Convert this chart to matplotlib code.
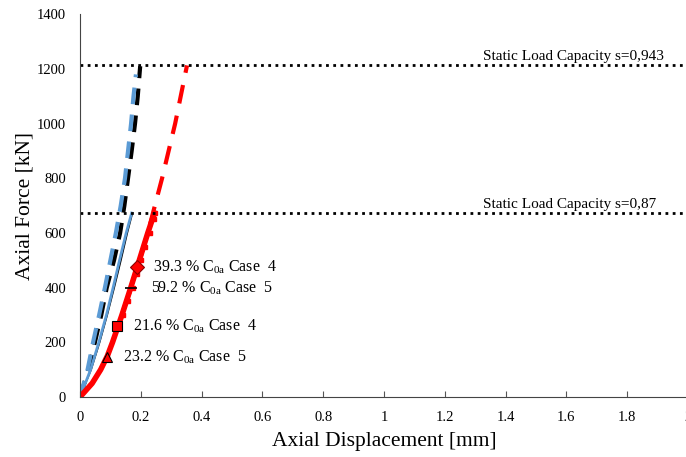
import matplotlib
matplotlib.use("Agg")
import matplotlib.pyplot as plt

plt.rcParams['font.family'] = ['Liberation Serif', 'DejaVu Serif']
plt.rcParams['mathtext.fontset'] = 'custom'
plt.rcParams['mathtext.rm'] = 'Liberation Serif'
plt.rcParams['mathtext.it'] = 'Liberation Serif'

# curves (force kN, displacement mm)
force_black_dash = [0, 100, 200, 300, 400, 500, 600, 700, 800, 900, 1000, 1100, 1210]
disp_black_dash = [0, 0.028, 0.049, 0.070, 0.088, 0.112, 0.132, 0.146, 0.158, 0.170, 0.181, 0.190, 0.198]

force_blue_dash = [0, 100, 200, 300, 400, 500, 600, 700, 800, 900, 1000, 1100, 1180]
disp_blue_dash = [0, 0.025, 0.043, 0.063, 0.082, 0.100, 0.118, 0.134, 0.148, 0.158, 0.168, 0.176, 0.184]

force_blue = [0, 100, 200, 300, 400, 500, 600, 673]
disp_blue = [0, 0.035, 0.062, 0.087, 0.109, 0.130, 0.152, 0.170]
disp_black_thin = [0, 0.037, 0.065, 0.090, 0.113, 0.135, 0.156, 0.173]

force_red = [0, 50, 100, 150, 200, 300, 400, 500, 600, 673]
disp_red = [0, 0.040, 0.068, 0.090, 0.107, 0.138, 0.167, 0.195, 0.223, 0.245]

force_red_dash = [0, 50, 100, 150, 200, 300, 400, 500, 600, 673, 800, 1000, 1213]
disp_red_dash = [0, 0.040, 0.068, 0.090, 0.107, 0.138, 0.167, 0.195, 0.223, 0.240, 0.270, 0.313, 0.352]

force_red_pts = [300, 350, 400, 450, 500, 550, 600, 650, 673]
disp_red_pts = [0.143, 0.158, 0.173, 0.187, 0.201, 0.215, 0.229, 0.242, 0.248]

# marked points and their labels
mark_x = [0.188, 0.168, 0.122, 0.089]
mark_y = [476, 399, 260, 146]
mark_style = ['D', '_', 's', '^']
mark_text = ['39.3 % C$_{0a}$ Case  4', '59.2 % C$_{0a}$ Case  5',
             '21.6 % C$_{0a}$ Case  4', '23.2 % C$_{0a}$ Case  5']
text_x = [0.24, 0.232, 0.176, 0.143]

cap_levels = [1213, 673]
cap_labels = ['Static Load Capacity s=0,943', 'Static Load Capacity s=0,87']

blue = '#5B9BD5'

fig = plt.figure(figsize=(6.86, 4.57), dpi=100)
ax = fig.add_axes([0.1166, 0.1313, 0.8863, 0.8374])

ax.plot(disp_red_dash, force_red_dash, color='red', lw=3, dashes=(4.5, 3))
ax.plot(disp_black_dash, force_black_dash, color='black', lw=3, dashes=(4, 2.5))
ax.plot(disp_blue_dash, force_blue_dash, color=blue, lw=3, dashes=(4, 2.5))
ax.plot(disp_black_thin, force_blue, color='black', lw=1)
ax.plot(disp_blue, force_blue, color=blue, lw=2)
ax.plot(disp_red_pts, force_red_pts, color='red', lw=1, ls=':', marker='s', ms=3)
ax.plot(disp_red, force_red, color='red', lw=4)

for lvl, lab in zip(cap_levels, cap_labels):
    ax.axhline(lvl, color='black', lw=2, ls=(0, (1, 1.6)))
    ax.text(1.325, lvl + 8, lab, fontsize=11, ha='left', va='bottom')

for x, y, m, t, tx in zip(mark_x, mark_y, mark_style, mark_text, text_x):
    if m == '_':
        ax.plot(x, y, marker=m, color='black', ms=9, mew=1.2)
    else:
        ax.plot(x, y, marker=m, color='red', mec='black' if m != 'D' else 'darkred',
                ms=7, mew=0.8)
    ax.text(tx, y, t, fontsize=11.5, va='center', ha='left')

ax.set_xlim(0, 2)
ax.set_ylim(0, 1400)
ax.set_xticks([0, 0.2, 0.4, 0.6, 0.8, 1, 1.2, 1.4, 1.6, 1.8, 2])
ax.set_xticklabels(['0', '0.2', '0.4', '0.6', '0.8', '1', '1.2', '1.4', '1.6', '1.8', '2'])
ax.set_yticks(range(0, 1401, 200))
ax.tick_params(axis='x', direction='in', length=4, labelsize=10.5, pad=10, color='#555555')
ax.tick_params(axis='y', length=0, labelsize=10.5, pad=10)
ax.spines['top'].set_visible(False)
ax.spines['right'].set_visible(False)
ax.spines['left'].set_color('#444444')
ax.spines['bottom'].set_color('#444444')

ax.set_xlabel('Axial Displacement [mm]', fontsize=15.5, labelpad=6)
ax.set_ylabel('Axial Force [kN]', fontsize=15.5, labelpad=2)

fig.savefig('out.png', dpi=100)
